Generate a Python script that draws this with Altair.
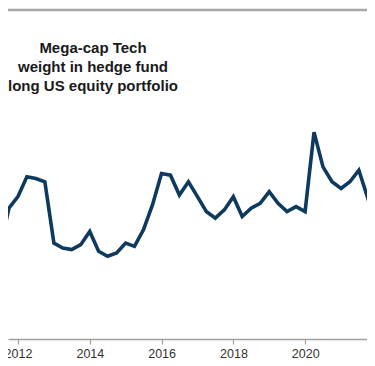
import altair as alt
import pandas as pd

# Quarter-end dates and estimated mega-cap tech weight (%)
dates = [
    "2011-06-30", "2011-09-30", "2011-12-31",
    "2012-03-31", "2012-06-30", "2012-09-30", "2012-12-31",
    "2013-03-31", "2013-06-30", "2013-09-30", "2013-12-31",
    "2014-03-31", "2014-06-30", "2014-09-30", "2014-12-31",
    "2015-03-31", "2015-06-30", "2015-09-30", "2015-12-31",
    "2016-03-31", "2016-06-30", "2016-09-30", "2016-12-31",
    "2017-03-31", "2017-06-30", "2017-09-30", "2017-12-31",
    "2018-03-31", "2018-06-30", "2018-09-30", "2018-12-31",
    "2019-03-31", "2019-06-30", "2019-09-30", "2019-12-31",
    "2020-03-31", "2020-06-30", "2020-09-30", "2020-12-31",
    "2021-03-31", "2021-06-30", "2021-09-30", "2021-12-31",
]
weights = [
    9.4, 11.9, 12.6,
    13.8, 13.7, 13.5, 9.8,
    9.5, 9.4, 9.7, 10.5,
    9.3, 9.0, 9.2, 9.8,
    9.6, 10.6, 12.1, 14.0,
    13.9, 12.7, 13.5, 12.6,
    11.7, 11.3, 11.8, 12.6,
    11.4, 11.9, 12.2, 12.9,
    12.2, 11.7, 12.0, 11.7,
    16.5, 14.4, 13.5, 13.1,
    13.5, 14.2, 12.5, 14.9,
]
title_lines = ["Mega-cap Tech", "weight in hedge fund", "long US equity portfolio"]
tick_years = [2012, 2014, 2016, 2018, 2020]

df = pd.DataFrame({"date": pd.to_datetime(dates), "weight": weights})
one = pd.DataFrame({"k": [0]})

W, H = 359, 331

x_scale = alt.Scale(domain=[alt.DateTime(year=2011, month=9, date=21),
                            alt.DateTime(year=2021, month=9, date=21)])
y_scale = alt.Scale(domain=[4, 24], nice=False, zero=False)

line = alt.Chart(df).mark_line(color="#0f3a5f", strokeWidth=3.6, clip=True).encode(
    x=alt.X("date:T", scale=x_scale, title=None,
            axis=alt.Axis(values=[alt.DateTime(year=y, month=1, date=1) for y in tick_years],
                          format="%Y", grid=False, domainColor="#a0a0a0", domainWidth=1.5,
                          tickColor="#a0a0a0", tickSize=5, tickWidth=1.2,
                          labelColor="#333333", labelFontSize=12.5,
                          labelFont="Liberation Sans", labelPadding=3)),
    y=alt.Y("weight:Q", scale=y_scale, axis=None),
)

top_bar = alt.Chart(one).mark_rect(color="#a8a8a8", strokeWidth=0).encode(
    x=alt.value(0), x2=alt.value(W), y=alt.value(0.8), y2=alt.value(3.3)
)

title = alt.Chart(one).mark_text(font="Liberation Sans", fontSize=15, fontWeight="bold",
                                 color="#1a1a1a", align="center", baseline="middle",
                                 lineHeight=19).encode(
    x=alt.value(85),
    y=alt.value(40),
    text=alt.value(title_lines),
)

chart = (
    alt.layer(top_bar, line, title)
    .properties(
        width=W, height=H,
        background="white",
        autosize=alt.AutoSizeParams(type="none"),
        padding={"left": 0, "top": 0, "right": 0, "bottom": 24},
    )
    .configure_view(strokeWidth=0, stroke="transparent")
)

chart.save("out.html", embed_options={"renderer": "svg", "actions": False})
